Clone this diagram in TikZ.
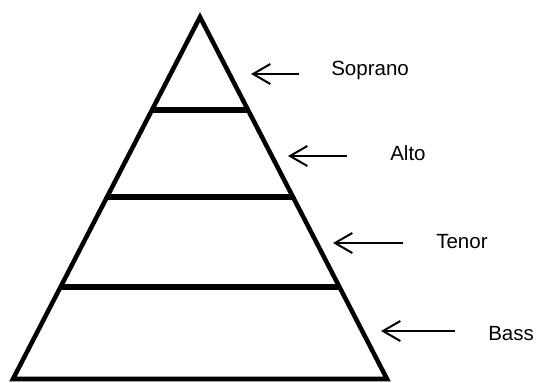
\documentclass[tikz,border=0pt]{standalone}
\usepackage{fontspec}
\setmainfont{Liberation Sans}
\usetikzlibrary{arrows.meta}

\begin{document}
\begin{tikzpicture}[x=0.75pt,y=0.75pt,yscale=-1,xscale=1]
\useasboundingbox (0,0) rectangle (537,383);

%Shape: Triangle [id:pyramid]
\draw  [line width=3.4pt, line join=miter] (200,17) -- (387,379) -- (13,379) -- cycle ;
%Straight Lines [id:layer1]
\draw [line width=4.6pt]   (152,110) -- (248,110) ;
%Straight Lines [id:layer2]
\draw [line width=4.6pt]   (106,197) -- (294,197) ;
%Straight Lines [id:layer3]
\draw [line width=4.6pt]   (60,287) -- (340,287) ;

% Arrow ends
\coordinate (soprano tip) at (251,74);
\coordinate (soprano tail) at (299,74);
\coordinate (alto tip) at (288,156);
\coordinate (alto tail) at (347,156);
\coordinate (tenor tip) at (333,243);
\coordinate (tenor tail) at (403,243);
\coordinate (bass tip) at (381,331);
\coordinate (bass tail) at (455,331);

%Straight Lines [id:arrows]
\draw [line width=1.5pt, -{Straight Barb[length=13pt,width=15pt,line width=1.5pt]}]   (soprano tail) -- (soprano tip) ;
\draw [line width=1.5pt, -{Straight Barb[length=13pt,width=15pt,line width=1.5pt]}]   (alto tail) -- (alto tip) ;
\draw [line width=1.5pt, -{Straight Barb[length=13pt,width=15pt,line width=1.5pt]}]   (tenor tail) -- (tenor tip) ;
\draw [line width=1.5pt, -{Straight Barb[length=13pt,width=15pt,line width=1.5pt]}]   (bass tail) -- (bass tip) ;

% Text Node
\draw (331,75) node [anchor=base west][inner sep=0pt]  [font=\fontsize{15.4}{18}\selectfont] (soprano) {Soprano};
% Text Node
\draw (390,160) node [anchor=base west][inner sep=0pt]  [font=\fontsize{15.4}{18}\selectfont] (alto) {Alto};
% Text Node
\draw (436,248) node [anchor=base west][inner sep=0pt]  [font=\fontsize{15.4}{18}\selectfont] (tenor) {Tenor};
% Text Node
\draw (488,340) node [anchor=base west][inner sep=0pt]  [font=\fontsize{15.4}{18}\selectfont] (bass) {Bass};
\end{tikzpicture}
\end{document}
